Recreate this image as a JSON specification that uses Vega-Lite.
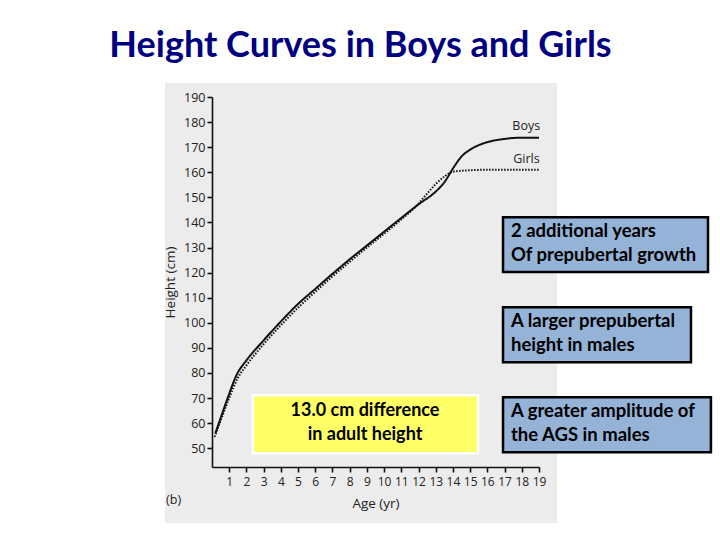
{
  "$schema": "https://vega.github.io/schema/vega-lite/v6.json",
  "width": 327,
  "height": 370,
  "autosize": {"type": "none"},
  "padding": {"left": 212, "top": 97, "right": 181, "bottom": 73},
  "background": "white",
  "title": {"text": "Height Curves in Boys and Girls", "font": "Lato", "fontSize": 36, "fontWeight": "bold", "color": "#000080", "anchor": "middle", "dx": -15, "offset": 18},
  "config": {
    "view": {"stroke": null},
    "text": {"lineBreak": "\n"},
    "axis": {"grid": false, "zindex": 2, "labelOverlap": false, "labelFlush": false, "domainColor": "#111", "domainWidth": 1.6, "tickColor": "#111", "tickWidth": 1.6, "tickSize": 5, "labelFont": "Open Sans", "labelFontSize": 12.5, "labelColor": "#222", "titleFont": "Open Sans", "titleFontSize": 13.5, "titleFontWeight": "normal", "titleColor": "#222"}
  },
  "datasets": {
    "curves": [
      {"age": 0.2, "height": 56, "sex": "Boys"},
      {"age": 0.5, "height": 62, "sex": "Boys"},
      {"age": 0.87, "height": 69.2, "sex": "Boys"},
      {"age": 1.45, "height": 79.5, "sex": "Boys"},
      {"age": 2, "height": 85, "sex": "Boys"},
      {"age": 3, "height": 93, "sex": "Boys"},
      {"age": 4, "height": 100.5, "sex": "Boys"},
      {"age": 5, "height": 107.5, "sex": "Boys"},
      {"age": 6, "height": 113.5, "sex": "Boys"},
      {"age": 7, "height": 119.5, "sex": "Boys"},
      {"age": 8, "height": 125.3, "sex": "Boys"},
      {"age": 9, "height": 130.8, "sex": "Boys"},
      {"age": 10, "height": 136.3, "sex": "Boys"},
      {"age": 11, "height": 141.8, "sex": "Boys"},
      {"age": 12, "height": 147.2, "sex": "Boys"},
      {"age": 13, "height": 152.3, "sex": "Boys"},
      {"age": 13.5, "height": 156, "sex": "Boys"},
      {"age": 14, "height": 161.5, "sex": "Boys"},
      {"age": 14.5, "height": 166.3, "sex": "Boys"},
      {"age": 15, "height": 169, "sex": "Boys"},
      {"age": 15.5, "height": 170.8, "sex": "Boys"},
      {"age": 16, "height": 172, "sex": "Boys"},
      {"age": 17, "height": 173.3, "sex": "Boys"},
      {"age": 18, "height": 173.8, "sex": "Boys"},
      {"age": 19, "height": 173.8, "sex": "Boys"},
      {"age": 0.15, "height": 54.5, "sex": "Girls"},
      {"age": 0.5, "height": 61, "sex": "Girls"},
      {"age": 1, "height": 70, "sex": "Girls"},
      {"age": 1.5, "height": 78, "sex": "Girls"},
      {"age": 2, "height": 83, "sex": "Girls"},
      {"age": 3, "height": 91.5, "sex": "Girls"},
      {"age": 4, "height": 99, "sex": "Girls"},
      {"age": 5, "height": 106, "sex": "Girls"},
      {"age": 6, "height": 112.3, "sex": "Girls"},
      {"age": 7, "height": 118.5, "sex": "Girls"},
      {"age": 8, "height": 124.3, "sex": "Girls"},
      {"age": 9, "height": 130, "sex": "Girls"},
      {"age": 10, "height": 135.5, "sex": "Girls"},
      {"age": 11, "height": 141.2, "sex": "Girls"},
      {"age": 12, "height": 147.5, "sex": "Girls"},
      {"age": 12.5, "height": 151.5, "sex": "Girls"},
      {"age": 13, "height": 155.3, "sex": "Girls"},
      {"age": 13.5, "height": 158.3, "sex": "Girls"},
      {"age": 14, "height": 160.2, "sex": "Girls"},
      {"age": 15, "height": 160.8, "sex": "Girls"},
      {"age": 16, "height": 161, "sex": "Girls"},
      {"age": 19, "height": 161, "sex": "Girls"}
    ],
    "notes": [
      {"id": "boys", "label": "Boys"},
      {"id": "girls", "label": "Girls"},
      {"id": "b", "label": "(b)"},
      {"id": "n1", "label": "2 additional years\nOf prepubertal growth"},
      {"id": "n2", "label": "A larger prepubertal\nheight in males"},
      {"id": "n3", "label": "A greater amplitude of\nthe AGS in males"},
      {"id": "n4", "label": "13.0 cm difference\nin adult height"}
    ]
  },
  "layer": [
    {
      "data": {"values": [{}]},
      "mark": {"type": "rect", "color": "#ececec"},
      "encoding": {
        "x": {"datum": -2.73, "type": "quantitative", "scale": {"domain": [0, 19], "nice": false, "zero": false},
              "axis": {"zindex": 2, "labelOverlap": false, "labelFlush": false, "labelFontSize": 12, "tickCount": 25, "values": [1,2,3,4,5,6,7,8,9,10,11,12,13,14,15,16,17,18,19], "title": "Age (yr)", "labelPadding": 4, "titlePadding": 9}},
        "x2": {"datum": 20.05},
        "y": {"datum": 195.6, "type": "quantitative", "scale": {"domain": [42.5, 190], "nice": false, "zero": false},
              "axis": {"zindex": 2, "labelOverlap": false, "labelFlush": false, "tickCount": 20, "values": [50,60,70,80,90,100,110,120,130,140,150,160,170,180,190], "title": "Height (cm)", "labelPadding": 2, "titlePadding": 6}},
        "y2": {"datum": 20.1}
      }
    },
    {
      "data": {"name": "curves"},
      "mark": {"type": "line", "color": "#111", "strokeWidth": 2, "interpolate": "monotone"},
      "encoding": {
        "x": {"field": "age", "type": "quantitative"},
        "y": {"field": "height", "type": "quantitative"},
        "detail": {"field": "sex"},
        "strokeDash": {"field": "sex", "type": "nominal", "scale": {"domain": ["Boys", "Girls"], "range": [[1, 0], [1.5, 1.5]]}, "legend": null}
      }
    },
    {
      "data": {"name": "notes"},
      "transform": [{"filter": "datum.id === 'boys'"}],
      "mark": {"type": "text", "align": "left", "baseline": "middle", "font": "Open Sans", "fontSize": 12.5, "color": "#222"},
      "encoding": {"x": {"datum": 17.45, "type": "quantitative"}, "y": {"datum": 178.4, "type": "quantitative"}, "text": {"field": "label"}}
    },
    {
      "data": {"name": "notes"},
      "transform": [{"filter": "datum.id === 'girls'"}],
      "mark": {"type": "text", "align": "left", "baseline": "middle", "font": "Open Sans", "fontSize": 12.5, "color": "#222"},
      "encoding": {"x": {"datum": 17.5, "type": "quantitative"}, "y": {"datum": 165.3, "type": "quantitative"}, "text": {"field": "label"}}
    },
    {
      "data": {"name": "notes"},
      "transform": [{"filter": "datum.id === 'b'"}],
      "mark": {"type": "text", "align": "left", "baseline": "middle", "font": "Open Sans", "fontSize": 12.5, "color": "#222"},
      "encoding": {"x": {"datum": -2.67, "type": "quantitative"}, "y": {"datum": 29.3, "type": "quantitative"}, "text": {"field": "label"}}
    },
    {
      "data": {"values": [{}]},
      "mark": {"type": "rect", "fill": "#95b3d7", "stroke": "#000", "strokeWidth": 2.5},
      "encoding": {"x": {"datum": 16.91, "type": "quantitative"}, "x2": {"datum": 28.82}, "y": {"datum": 142.1, "type": "quantitative"}, "y2": {"datum": 120.2}}
    },
    {
      "data": {"values": [{}]},
      "mark": {"type": "rect", "fill": "#95b3d7", "stroke": "#000", "strokeWidth": 2.5},
      "encoding": {"x": {"datum": 16.91, "type": "quantitative"}, "x2": {"datum": 27.83}, "y": {"datum": 106.2, "type": "quantitative"}, "y2": {"datum": 84.3}}
    },
    {
      "data": {"values": [{}]},
      "mark": {"type": "rect", "fill": "#95b3d7", "stroke": "#000", "strokeWidth": 2.5},
      "encoding": {"x": {"datum": 16.91, "type": "quantitative"}, "x2": {"datum": 28.99}, "y": {"datum": 70.3, "type": "quantitative"}, "y2": {"datum": 48.4}}
    },
    {
      "data": {"values": [{}]},
      "mark": {"type": "rect", "fill": "#ffff66", "stroke": "#ffffff", "strokeWidth": 2.5},
      "encoding": {"x": {"datum": 2.38, "type": "quantitative"}, "x2": {"datum": 15.46}, "y": {"datum": 71.1, "type": "quantitative"}, "y2": {"datum": 48.0}}
    },
    {
      "data": {"name": "notes"},
      "transform": [{"filter": "datum.id === 'n1'"}],
      "mark": {"type": "text", "align": "left", "baseline": "middle", "font": "Lato", "fontWeight": "bold", "fontSize": 18.5, "lineHeight": 24, "color": "#000"},
      "encoding": {"x": {"datum": 17.37, "type": "quantitative"}, "y": {"datum": 136.5, "type": "quantitative"}, "text": {"field": "label"}}
    },
    {
      "data": {"name": "notes"},
      "transform": [{"filter": "datum.id === 'n2'"}],
      "mark": {"type": "text", "align": "left", "baseline": "middle", "font": "Lato", "fontWeight": "bold", "fontSize": 18.5, "lineHeight": 24, "color": "#000"},
      "encoding": {"x": {"datum": 17.37, "type": "quantitative"}, "y": {"datum": 100.6, "type": "quantitative"}, "text": {"field": "label"}}
    },
    {
      "data": {"name": "notes"},
      "transform": [{"filter": "datum.id === 'n3'"}],
      "mark": {"type": "text", "align": "left", "baseline": "middle", "font": "Lato", "fontWeight": "bold", "fontSize": 18.5, "lineHeight": 24, "color": "#000"},
      "encoding": {"x": {"datum": 17.37, "type": "quantitative"}, "y": {"datum": 64.7, "type": "quantitative"}, "text": {"field": "label"}}
    },
    {
      "data": {"name": "notes"},
      "transform": [{"filter": "datum.id === 'n4'"}],
      "mark": {"type": "text", "align": "center", "baseline": "middle", "font": "Lato", "fontWeight": "bold", "fontSize": 18, "lineHeight": 24, "color": "#000"},
      "encoding": {"x": {"datum": 8.89, "type": "quantitative"}, "y": {"datum": 64.7, "type": "quantitative"}, "text": {"field": "label"}}
    }
  ]
}
